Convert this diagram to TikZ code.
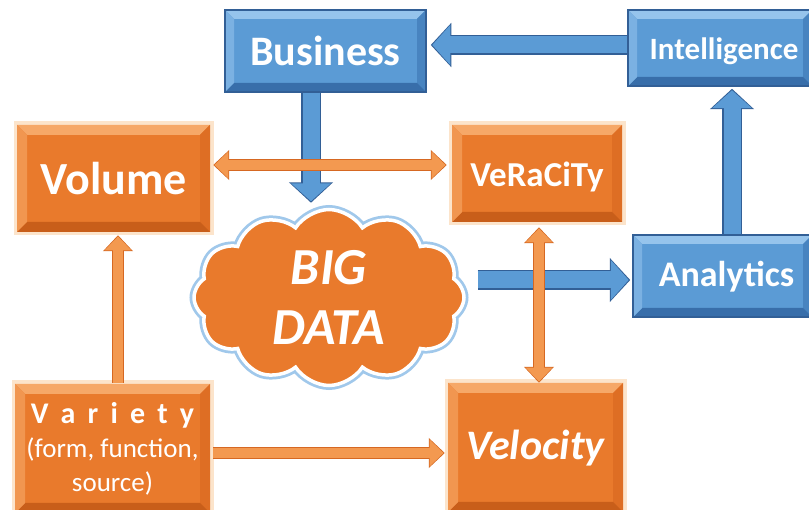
\documentclass[tikz,border=0pt]{standalone}
\usepackage{fontspec}
\setmainfont{Carlito}
\usetikzlibrary{shapes.symbols,arrows.meta,calc}
\definecolor{org}{RGB}{233,122,44}
\definecolor{orgL}{RGB}{246,168,104}
\definecolor{orgLL}{RGB}{250,196,140}
\definecolor{orgM}{RGB}{222,110,36}
\definecolor{orgD}{RGB}{200,94,26}
\definecolor{orgArr}{RGB}{243,153,80}
\definecolor{orgArrD}{RGB}{214,104,34}
\definecolor{blu}{RGB}{91,155,213}
\definecolor{bluL}{RGB}{150,196,236}
\definecolor{bluM}{RGB}{72,132,192}
\definecolor{bluD}{RGB}{56,110,170}
\definecolor{bluB}{RGB}{50,95,150}
\definecolor{bluGlow}{RGB}{160,200,235}
\newcommand\bevelpic[5]{%
  \fill[#1] (path picture bounding box.north west) -- (path picture bounding box.north east)
    -- ([shift={(-#5pt,-#5pt)}]path picture bounding box.north east)
    -- ([shift={(#5pt,-#5pt)}]path picture bounding box.north west) -- cycle;
  \fill[#2] (path picture bounding box.north east) -- (path picture bounding box.south east)
    -- ([shift={(-#5pt,#5pt)}]path picture bounding box.south east)
    -- ([shift={(-#5pt,-#5pt)}]path picture bounding box.north east) -- cycle;
  \fill[#3] (path picture bounding box.south east) -- (path picture bounding box.south west)
    -- ([shift={(#5pt,#5pt)}]path picture bounding box.south west)
    -- ([shift={(-#5pt,#5pt)}]path picture bounding box.south east) -- cycle;
  \fill[#4] (path picture bounding box.south west) -- (path picture bounding box.north west)
    -- ([shift={(#5pt,-#5pt)}]path picture bounding box.north west)
    -- ([shift={(#5pt,#5pt)}]path picture bounding box.south west) -- cycle;
}
\newcommand\fsz[2]{\fontsize{#1}{#2}\selectfont}
\tikzset{
  box/.style={rectangle, inner sep=0pt, text=white, align=center},
  orangebox/.style={box, fill=org,
    preaction={draw=orgLL, line width=7pt, opacity=0.45},
    path picture={\bevelpic{orgL}{orgM}{orgD}{orgL!60!org}{10}}},
  bluebox/.style={box, fill=blu, draw=bluB, line width=1.5pt,
    path picture={\bevelpic{bluL}{bluM}{bluD}{bluL!55!blu}{9}}},
  bluearr/.style={draw=blu, line width=17pt,
    -{Triangle[length=18pt,width=39pt]}, shorten >=1.5pt,
    preaction={draw=bluB, line width=20pt,
      -{Triangle[length=20.5pt,width=43pt]}, shorten >=0pt}},
  orgdbl/.style={draw=orgArr, line width=10pt,
    {Triangle[length=14pt,width=26pt]}-{Triangle[length=14pt,width=26pt]},
    shorten >=1.2pt, shorten <=1.2pt,
    preaction={draw=orgArrD, line width=12.5pt,
      {Triangle[length=16pt,width=29pt]}-{Triangle[length=16pt,width=29pt]},
      shorten >=0pt, shorten <=0pt}},
  orgone/.style={draw=orgArr, line width=10pt,
    -{Triangle[length=14pt,width=26pt]}, shorten >=1.2pt,
    preaction={draw=orgArrD, line width=12.5pt,
      -{Triangle[length=16pt,width=29pt]}, shorten >=0pt}},
}
\begin{document}
\begin{tikzpicture}[x=1pt,y=-1pt]
\useasboundingbox (0,0) rectangle (809,510);
\clip (0,0) rectangle (809,510);
\fill[white] (0,0) rectangle (809,510);

% boxes
\node[bluebox, minimum width=201pt, minimum height=82pt, font=\bfseries\fsz{42}{50}] (business) at (325.5,51) {Business};
\node[bluebox, minimum width=184pt, minimum height=76pt, font=\bfseries\fsz{31}{37},
  text height=30pt, text depth=6pt] (intelligence) at (720,48) {\hspace*{8pt}Intelligence};
\node[bluebox, minimum width=179pt, minimum height=82pt, font=\bfseries\fsz{36}{42},
  text height=29pt, text depth=7pt] (analytics) at (722.5,276) {\hspace*{8pt}Analytics};
\node[orangebox, minimum width=193pt, minimum height=107pt, font=\bfseries\fsz{46}{54}] (volume) at (113.5,178.5) {Volume};
\node[orangebox, minimum width=170pt, minimum height=97pt, font=\bfseries\fsz{35}{42},
  text height=34pt, text depth=7pt] (veracity) at (537,173.5) {VeRaCiTy};
\node[orangebox, minimum width=175pt, minimum height=129pt, font=\bfseries\itshape\fsz{42}{50},
  text height=33.5pt, text depth=8.5pt] (velocity) at (535.5,447.5) {Velocity};
\node[orangebox, minimum width=195pt, minimum height=129pt, font=\fsz{27}{34}] (variety) at (112.5,448.5)
  {{\bfseries\fsz{30}{34}\addfontfeature{LetterSpace=18}V a r i e t y}\\(form, function,\\source)};

% cloud
\node[cloud, cloud puffs=12, cloud puff arc=115, aspect=1.5, minimum width=270pt, minimum height=176pt,
  inner sep=0pt, fill=org, draw=white, line width=3.5pt,
  preaction={draw=bluGlow, line width=9pt}] (cloud) at (329,297.5) {};
\node[text=white, align=center, font=\bfseries\itshape\fsz{52}{60}] (bigdata) at (cloud.center) {BIG\\DATA};

% blue arrows
\draw[bluearr] ($(business.south)+(-14.5,0)$) -- ($(business.south |- cloud.north)+(-14.5,-5)$);
\draw[bluearr] ($(intelligence.west)+(0,-3)$) -- ($(intelligence.west -| business.east)+(4,-3)$);
\draw[bluearr] ($(analytics.north)+(9.5,0)$) -- ($(analytics.north |- intelligence.south)+(9.5,2)$);
\draw[bluearr] ($(cloud.east |- analytics.west)+(12,4)$) -- ($(analytics.west)+(-2,4)$);

% orange arrows
\draw[orgdbl] ($(volume.east)+(3,-13.5)$) -- ($(volume.east -| veracity.west)+(-5,-13.5)$);
\draw[orgone] ($(variety.north)+(5.5,-1)$) -- ($(variety.north |- volume.south)+(5.5,3)$);
\draw[orgdbl] ($(veracity.south)+(2,5)$) -- ($(veracity.south |- velocity.north)+(2,0)$);
\draw[orgone] ($(variety.east)+(3,4.5)$) -- ($(variety.east -| velocity.west)+(-3,4.5)$);
\end{tikzpicture}
\end{document}
